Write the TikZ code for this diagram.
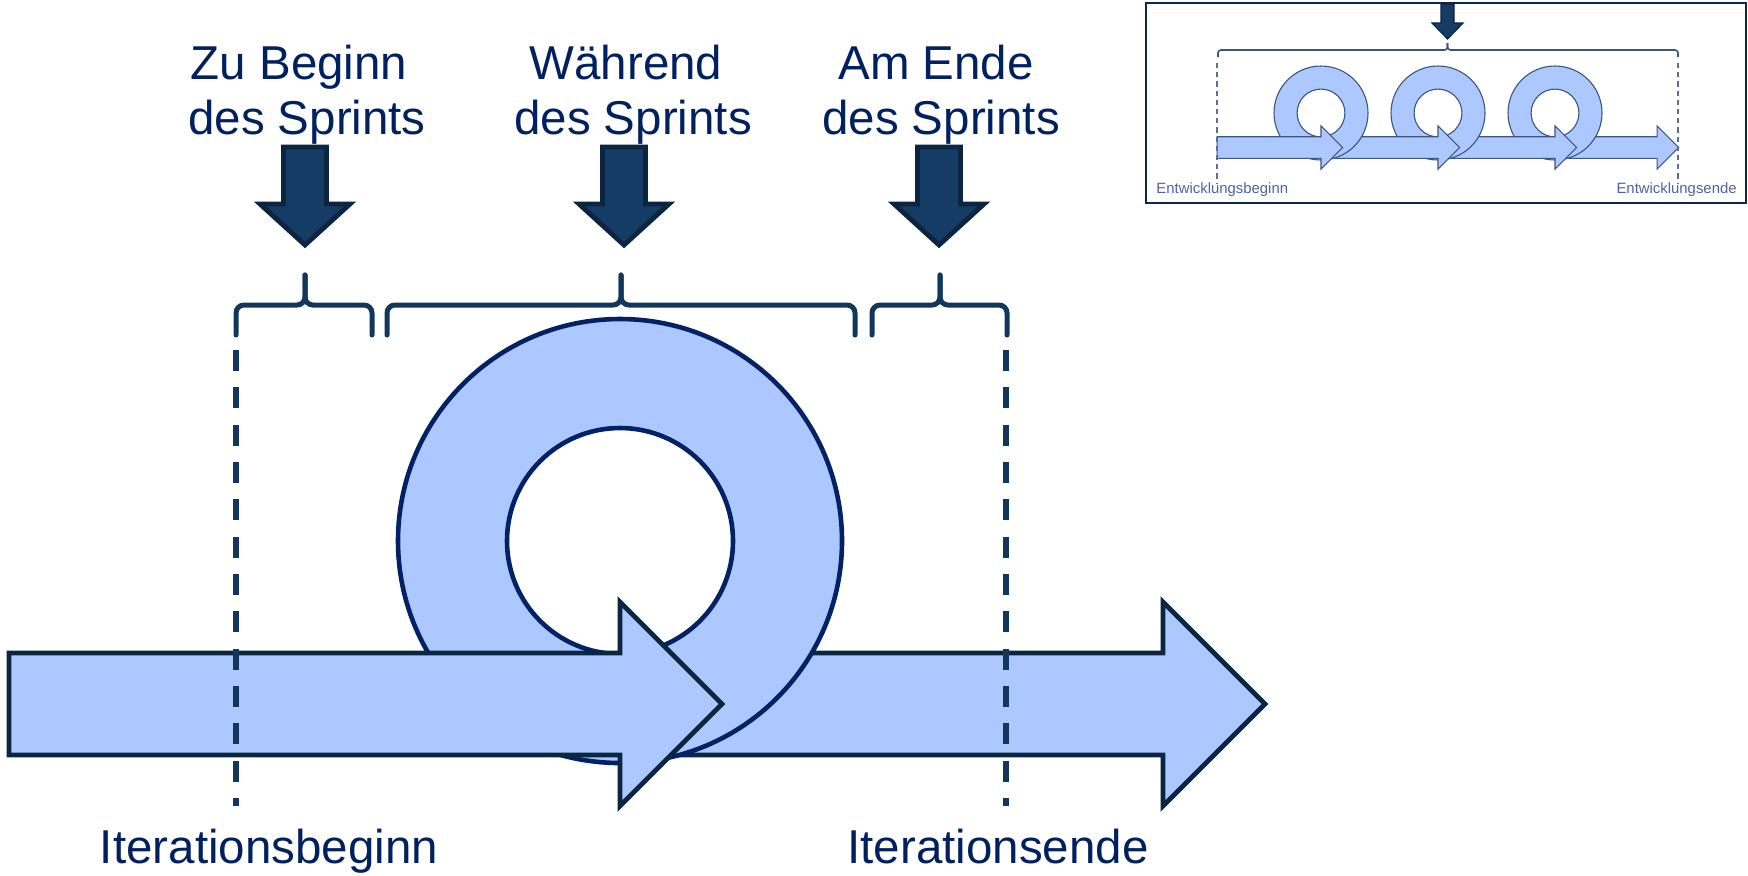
\documentclass[tikz,border=0pt]{standalone}
\usepackage{fontspec}
\setmainfont{Liberation Sans}
\definecolor{textnavy}{HTML}{002060}
\definecolor{flowfill}{HTML}{ADC8FF}
\definecolor{flowline}{HTML}{0B2641}
\definecolor{ringline}{HTML}{032266}
\definecolor{sprintfill}{HTML}{143C64}
\definecolor{sprintline}{HTML}{0B2440}
\definecolor{bracecol}{HTML}{12375C}
\definecolor{insetline}{HTML}{3C5680}
\definecolor{insettext}{HTML}{5262A0}
\definecolor{boxline}{HTML}{0C2848}
\tikzset{
  % horizontal flow arrow, given in the frame of its loop (centre at origin)
  flowpath/.style 2 args={insert path={(#1,112) -- (#2,112) -- (#2,61) -- ({#2+102},163)
      -- (#2,265) -- (#2,214) -- (#1,214) -- cycle}},
  ringpath/.style={insert path={(0,0) circle (222) (0,0) circle (113)}},
  flowbig/.style={fill=flowfill, draw=flowline, line width=2.4pt, line join=miter},
  ringbig/.style={fill=flowfill, draw=ringline, line width=2.3pt, even odd rule},
  flowsmall/.style={fill=flowfill, draw=insetline, line width=0.55pt, line join=miter},
  ringsmall/.style={fill=flowfill, draw=insetline, line width=0.55pt, even odd rule},
  sprintarrow/.style={fill=sprintfill, draw=sprintline, line width=2.4pt, line join=miter},
  bracebig/.style={draw=bracecol, line width=2.5pt, rounded corners=4pt, line cap=round},
  bracesmall/.style={draw=insetline, line width=0.8pt, rounded corners=1.5pt},
  dashbig/.style={draw=bracecol, line width=2.7pt, dash pattern=on 10.5pt off 8.17pt},
  dashsmall/.style={draw=insetline!85, line width=0.9pt, dash pattern=on 2.6pt off 2pt},
  bigtxt/.style={text=textnavy, inner sep=0pt, font=\fontsize{23.75}{28}\selectfont},
  smalltxt/.style={text=insettext, inner sep=0pt, font=\fontsize{7.45}{9}\selectfont},
}
\begin{document}
\begin{tikzpicture}[x=0.5pt, y=-0.5pt]
\useasboundingbox (0,0) rectangle (1748,875);

% ---- main loop with incoming and outgoing arrows ----
\begin{scope}[shift={(620,541)}]
  \draw[flowbig, flowpath={0}{543}];
  \draw[ringbig, ringpath];
  \draw[flowbig, flowpath={-611}{0}];
\end{scope}

% ---- iteration start / end markers ----
\draw[dashbig] (236,350) -- (236,806);
\draw[dashbig] (1006,350) -- (1006,806);

% ---- braces ----
\foreach \l/\p/\r in {236/305/372, 387/621/855, 872/940/1007} {
  \draw[bracebig] (\l,335) -- (\l,305) -- (\p,305) -- (\p,275);
  \draw[bracebig] (\r,335) -- (\r,305) -- (\p,305) -- (\p,275);
}

% ---- sprint phase arrows ----
\foreach \c in {305, 624, 939} {
  \draw[sprintarrow] (\c-21.5,147) -- (\c+21.5,147) -- (\c+21.5,204) -- (\c+45,204)
    -- (\c,245) -- (\c-45,204) -- (\c-21.5,204) -- cycle;
}

% ---- labels ----
\node[bigtxt, anchor=base] (zuA) at (299,79) {Zu Beginn};
\node[bigtxt, anchor=base] (zuB) at (307,134) {des Sprints};
\node[bigtxt, anchor=base] (waA) at (626,79) {Während};
\node[bigtxt, anchor=base] (waB) at (633,134) {des Sprints};
\node[bigtxt, anchor=base] (amA) at (936,79) {Am Ende};
\node[bigtxt, anchor=base] (amB) at (941,134) {des Sprints};
\node[bigtxt, anchor=base] (itB) at (269,863) {Iterationsbeginn};
\node[bigtxt, anchor=base] (itE) at (998,863) {Iterationsende};

% ---- overview: several sprints over the whole development ----
\draw[draw=boxline, line width=1.25pt, fill=white] (1146,3) rectangle (1746,203);

\begin{scope}[shift={(1555,113)}, scale=0.2117]
  \draw[flowsmall, flowpath={0}{482}];
  \draw[ringsmall, ringpath];
  \draw[flowsmall, flowpath={-553}{0}];
\end{scope}
\begin{scope}[shift={(1438,113)}, scale=0.2117]
  \draw[ringsmall, ringpath];
  \draw[flowsmall, flowpath={-553}{0}];
\end{scope}
\begin{scope}[shift={(1321,113)}, scale=0.2117]
  \draw[ringsmall, ringpath];
  \draw[flowsmall, flowpath={-491}{0}];
\end{scope}

\draw[dashsmall] (1217,63) -- (1217,184);
\draw[dashsmall] (1678,63) -- (1678,184);

\draw[bracesmall] (1218,57) -- (1218,50) -- (1447.5,50) -- (1447.5,43);
\draw[bracesmall] (1678,57) -- (1678,50) -- (1447.5,50) -- (1447.5,43);

\draw[fill=sprintfill, draw=sprintline, line width=0.6pt]
  (1441,4) -- (1454,4) -- (1454,23) -- (1463,23) -- (1447.5,39)
  -- (1432,23) -- (1441,23) -- cycle;

\node[smalltxt, anchor=base west] (devB) at (1156,193) {Entwicklungsbeginn};
\node[smalltxt, anchor=base east] (devE) at (1737,193) {Entwicklungsende};
\end{tikzpicture}
\end{document}
